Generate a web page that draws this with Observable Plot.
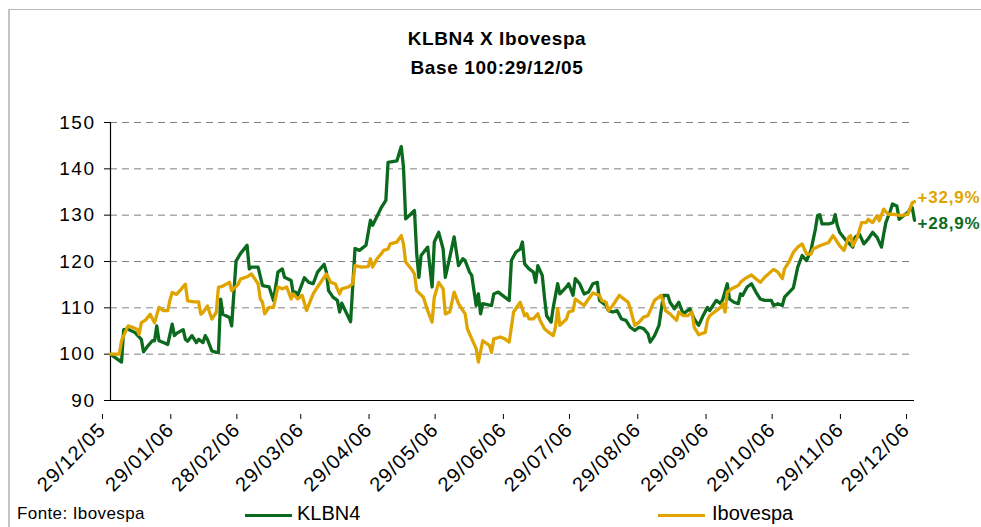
<!DOCTYPE html>
<html>
<head>
<meta charset="utf-8">
<script src="https://cdn.jsdelivr.net/npm/d3@7"></script>
<script src="https://cdn.jsdelivr.net/npm/@observablehq/plot@0.6"></script>
<style>
  html, body { margin: 0; padding: 0; background: #fff; }
  #wrap { position: relative; width: 981px; height: 527px; overflow: hidden; font-family: "Liberation Sans", Arial, sans-serif; color: #000; }
  #frame { position: absolute; left: 8px; top: 9px; width: 990px; height: 540px; border-top: 1px solid #b8b8b8; border-left: 2px solid #c4c4c4; }
  .title { position: absolute; left: 0; width: 994px; text-align: center; font-size: 19px; font-weight: bold; line-height: 29px; letter-spacing: 0.6px; }
  #chart { position: absolute; left: 0; top: 0; }
  .foot { position: absolute; font-size: 17px; line-height: 20px; letter-spacing: 0.4px; }
  .leg { position: absolute; font-size: 20px; line-height: 24px; }
  .swatch { position: absolute; height: 3px; }
</style>
</head>
<body>
<div id="wrap">
  <div id="frame"></div>
  <div id="chart"></div>
  <div class="title" style="top:24px">KLBN4 X Ibovespa</div>
  <div class="title" style="top:53px">Base 100:29/12/05</div>
  <div class="foot" style="left:17px; top:504px">Fonte: Ibovespa</div>
  <div id="legend"></div>
</div>
<script>
// ---- data ----
const seriesNames = ["KLBN4", "Ibovespa"];
const seriesColors = ["#0b6a1d", "#dfa400"];
const endLabels = ["+28,9%", "+32,9%"];

const klbnDates = [
"2005-12-29","2005-12-31","2006-01-03","2006-01-04","2006-01-06","2006-01-09","2006-01-12","2006-01-13","2006-01-15","2006-01-17",
"2006-01-18","2006-01-19","2006-01-20","2006-01-22","2006-01-24","2006-01-26","2006-01-27","2006-01-28","2006-01-31","2006-02-01",
"2006-02-02","2006-02-04","2006-02-06","2006-02-07","2006-02-09","2006-02-10","2006-02-11","2006-02-13","2006-02-15","2006-02-16",
"2006-02-17","2006-02-18","2006-02-21","2006-02-22","2006-02-24","2006-02-26","2006-03-01","2006-03-02","2006-03-03","2006-03-06",
"2006-03-08","2006-03-11","2006-03-13","2006-03-15","2006-03-17","2006-03-18","2006-03-21","2006-03-22","2006-03-23","2006-03-24",
"2006-03-27","2006-03-29","2006-03-31","2006-04-02","2006-04-05","2006-04-06","2006-04-07","2006-04-09","2006-04-11","2006-04-12",
"2006-04-13","2006-04-17","2006-04-19","2006-04-21","2006-04-24","2006-04-26","2006-04-27","2006-05-01","2006-05-03","2006-05-04",
"2006-05-08","2006-05-10","2006-05-11","2006-05-12","2006-05-14","2006-05-16","2006-05-17","2006-05-18","2006-05-19","2006-05-22",
"2006-05-24","2006-05-25","2006-05-27","2006-05-29","2006-05-30","2006-06-01","2006-06-03","2006-06-05","2006-06-07","2006-06-08",
"2006-06-10","2006-06-11","2006-06-13","2006-06-14","2006-06-15","2006-06-16","2006-06-20","2006-06-21","2006-06-23","2006-06-26",
"2006-06-28","2006-06-29","2006-07-01","2006-07-03","2006-07-04","2006-07-05","2006-07-07","2006-07-09","2006-07-10","2006-07-11",
"2006-07-13","2006-07-14","2006-07-15","2006-07-17","2006-07-18","2006-07-20","2006-07-21","2006-07-24","2006-07-25","2006-07-27",
"2006-07-28","2006-07-30","2006-08-01","2006-08-03","2006-08-05","2006-08-07","2006-08-08","2006-08-11","2006-08-12","2006-08-14",
"2006-08-16","2006-08-18","2006-08-20","2006-08-22","2006-08-24","2006-08-26","2006-08-28","2006-08-30","2006-08-31","2006-09-02",
"2006-09-04","2006-09-06","2006-09-08","2006-09-09","2006-09-11","2006-09-13","2006-09-15","2006-09-18","2006-09-20","2006-09-22",
"2006-09-24","2006-09-26","2006-09-27","2006-09-30","2006-10-02","2006-10-03","2006-10-05","2006-10-06","2006-10-08","2006-10-10",
"2006-10-11","2006-10-12","2006-10-14","2006-10-16","2006-10-18","2006-10-20","2006-10-22","2006-10-25","2006-10-26","2006-10-28",
"2006-10-30","2006-10-31","2006-11-04","2006-11-06","2006-11-08","2006-11-10","2006-11-12","2006-11-14","2006-11-15","2006-11-16",
"2006-11-17","2006-11-20","2006-11-22","2006-11-23","2006-11-24","2006-11-25","2006-11-28","2006-11-29","2006-12-01","2006-12-02",
"2006-12-04","2006-12-06","2006-12-08","2006-12-10","2006-12-12","2006-12-14","2006-12-15","2006-12-16","2006-12-18","2006-12-19",
"2006-12-21","2006-12-22","2006-12-24","2006-12-26","2006-12-27","2006-12-28","2006-12-29"
];
const klbnValues = [
100,99.3,98.3,105.3,105.4,104.7,103.2,100.5,101.8,102.9,
102.9,106.1,102.9,102.5,102.1,106.5,104,104.5,105.3,103.2,
102.8,104,102.5,103.2,102.5,104,103.2,100.7,100.4,100.4,
111.9,108.6,107.9,106.1,120.1,121.7,123.5,118.4,118.8,118.8,
114.8,114.5,111.6,117.7,118.4,116.6,115.9,113,113.4,112.7,
116.5,115.5,115.2,117.7,119.4,117.7,113.7,112.3,111.6,109.1,
111,107,122.8,122.4,123.5,128.9,127.8,131.7,133.2,141.4,
141.7,144.8,140.4,129.2,130.1,131,121.7,116.6,121.3,123.1,
114.5,124.2,126.3,122.7,116.6,120.9,125.3,119.1,120.6,120.2,
117.7,117,110.5,113,108.7,110.9,110.5,113,113.4,112.3,
111.6,120.2,122,122.7,124.2,119.5,118.4,117.7,115.5,119.1,
117,112.3,108.3,106.9,110.1,115.2,113,114.5,115.2,112.7,
116.3,115.2,113,113.4,115.2,115.5,111.6,110.5,109.4,109.1,
109.4,107.6,107.3,105.8,105.1,105.8,105.5,104.4,102.6,104,
106.2,112.7,112.7,111.2,109.8,111.2,108.7,109.8,107.6,106.2,
108.3,110.1,109.4,111.6,110.9,111.9,115.2,111.9,111.2,110.9,
113,112.7,114.5,115.2,113.4,111.9,111.6,111.6,110.5,110.9,
110.5,112.3,114.3,118.8,121.3,120.2,122.4,127,129.9,130.1,
128.1,128.1,128.4,130.1,127.7,126.3,124.5,124.1,123.1,125.2,
125.9,123.8,124.9,126.3,125.2,123.1,125.9,128.4,130.9,132.4,
132,129.1,129.9,130.6,131.3,131.6,128.9
];

const ibovDates = [
"2005-12-29","2006-01-02","2006-01-03","2006-01-04","2006-01-06","2006-01-08","2006-01-10","2006-01-11","2006-01-12","2006-01-14",
"2006-01-16","2006-01-18","2006-01-20","2006-01-22","2006-01-24","2006-01-25","2006-01-26","2006-01-28","2006-01-30","2006-02-01",
"2006-02-02","2006-02-05","2006-02-07","2006-02-08","2006-02-09","2006-02-11","2006-02-13","2006-02-15","2006-02-16","2006-02-18",
"2006-02-21","2006-02-22","2006-02-25","2006-02-26","2006-03-01","2006-03-03","2006-03-06","2006-03-07","2006-03-08","2006-03-09",
"2006-03-11","2006-03-13","2006-03-15","2006-03-17","2006-03-19","2006-03-21","2006-03-22","2006-03-24","2006-03-26","2006-03-28",
"2006-03-31","2006-04-02","2006-04-06","2006-04-08","2006-04-10","2006-04-12","2006-04-13","2006-04-16","2006-04-18","2006-04-19",
"2006-04-22","2006-04-25","2006-04-26","2006-04-27","2006-04-29","2006-05-01","2006-05-02","2006-05-04","2006-05-05","2006-05-08",
"2006-05-10","2006-05-11","2006-05-12","2006-05-15","2006-05-16","2006-05-17","2006-05-20","2006-05-22","2006-05-24","2006-05-25",
"2006-05-27","2006-05-29","2006-05-30","2006-06-01","2006-06-03","2006-06-05","2006-06-07","2006-06-08","2006-06-09","2006-06-10",
"2006-06-13","2006-06-14","2006-06-16","2006-06-19","2006-06-20","2006-06-21","2006-06-24","2006-06-26","2006-06-28","2006-06-30",
"2006-07-01","2006-07-03","2006-07-05","2006-07-06","2006-07-07","2006-07-09","2006-07-11","2006-07-12","2006-07-14","2006-07-16",
"2006-07-18","2006-07-19","2006-07-20","2006-07-21","2006-07-24","2006-07-25","2006-07-27","2006-07-28","2006-07-30","2006-08-01",
"2006-08-03","2006-08-05","2006-08-08","2006-08-09","2006-08-11","2006-08-12","2006-08-14","2006-08-17","2006-08-18","2006-08-21",
"2006-08-22","2006-08-24","2006-08-26","2006-08-28","2006-08-30","2006-09-02","2006-09-05","2006-09-07","2006-09-09","2006-09-12",
"2006-09-13","2006-09-15","2006-09-17","2006-09-19","2006-09-20","2006-09-22","2006-09-25","2006-09-26","2006-09-27","2006-09-30",
"2006-10-02","2006-10-03","2006-10-04","2006-10-05","2006-10-07","2006-10-10","2006-10-11","2006-10-13","2006-10-16","2006-10-18",
"2006-10-20","2006-10-22","2006-10-26","2006-10-28","2006-10-30","2006-10-31","2006-11-02","2006-11-04","2006-11-06","2006-11-08",
"2006-11-10","2006-11-12","2006-11-13","2006-11-16","2006-11-20","2006-11-22","2006-11-23","2006-11-25","2006-11-27","2006-11-29",
"2006-11-30","2006-12-01","2006-12-03","2006-12-05","2006-12-07","2006-12-08","2006-12-10","2006-12-12","2006-12-13","2006-12-15",
"2006-12-17","2006-12-19","2006-12-23","2006-12-26","2006-12-28","2006-12-29"
];
const ibovValues = [
100,100,102.9,104,106.1,105.8,105.4,104.3,106.8,107.4,
108.6,106.8,110.1,109.4,109.4,111.7,113.3,112.9,114,115.1,
111.5,111.3,111.3,108.6,109,110.4,107.6,109,114.4,114.7,
115.5,113.7,115.1,116.2,116.7,117.3,115.2,111.9,111.2,108.7,
110.1,110.1,114.5,114.1,114.5,111.9,113,111.9,112.7,109.4,
113,114.5,117.3,115.5,115.2,113,114.1,114.5,115.2,119.1,
118.8,118.9,120.6,118.8,120.6,121.7,122.4,122.7,123.8,124.2,
125.6,123.8,119.9,118.1,117.3,113.7,112.3,109.4,106.9,112.3,
115.5,114.1,108.7,109.1,113.4,110.9,109.4,108.7,105.5,104.4,
101.2,98.3,102.9,101.9,100.4,103.3,103.7,103.3,102.6,109.1,
109.8,111.2,108.3,108.7,107.6,107.6,108.7,107.3,105.5,104.7,
104,105.8,109.8,106.2,107.6,109.1,109.4,111.9,111.2,110.5,
111.9,113.2,112.7,111.6,111.2,109.4,110.5,112.7,112.3,111.2,
109.8,106.2,106.9,108,108.3,111.6,112.7,109.4,108.7,107.3,
109.1,108.3,108.3,109.1,105.8,104.2,104.7,107.3,108.3,109.4,
110.1,110.9,109.1,113.4,114.1,114.8,115.5,116.3,117.1,116.3,
115.5,116.6,118.3,117.7,116.3,118.4,119.9,122,123.1,123.8,
121.6,121.6,122.7,123.4,124.1,125.6,124.9,123.4,122.4,125.2,
125.6,123.4,125.2,128.4,128.4,129.1,128.4,129.9,128.8,131.3,
130.2,130.2,129.9,130.2,132.7,132.9
];

const yTicks = [90, 100, 110, 120, 130, 140, 150];
const gridTicks = [100, 110, 120, 130, 140, 150];
const xTickDates = ["2005-12-29","2006-01-29","2006-02-28","2006-03-29","2006-04-29","2006-05-29","2006-06-29",
                    "2006-07-29","2006-08-29","2006-09-29","2006-10-29","2006-11-29","2006-12-29"];
const xTickLabels = ["29/12/05","29/01/06","28/02/06","29/03/06","29/04/06","29/05/06","29/06/06",
                     "29/07/06","29/08/06","29/09/06","29/10/06","29/11/06","29/12/06"];

// ---- build ----
const parse = d3.utcParse("%Y-%m-%d");
const klbn = klbnDates.map((d, i) => ({date: parse(d), value: klbnValues[i]}));
const ibov = ibovDates.map((d, i) => ({date: parse(d), value: ibovValues[i]}));
const ticks = xTickDates.map(parse);
const labelOf = new Map(ticks.map((t, i) => [+t, xTickLabels[i]]));
const klbnEnd = [{...klbn[klbn.length - 1], label: endLabels[0]}];
const ibovEnd = [{...ibov[ibov.length - 1], label: endLabels[1]}];

const chart = Plot.plot({
  width: 981,
  height: 527,
  marginLeft: 110,
  marginRight: 67,
  marginTop: 122,
  marginBottom: 127,
  style: {fontFamily: "'Liberation Sans', Arial, sans-serif", background: "transparent", overflow: "visible", color: "#000"},
  x: {type: "utc", domain: [ticks[0], ticks[ticks.length - 1]]},
  y: {domain: [90, 150]},
  marks: [
    Plot.gridY(gridTicks, {stroke: "#808080", strokeOpacity: 1, strokeWidth: 1, strokeDasharray: "7,5"}),
    Plot.axisY(yTicks, {tickSize: 6, tickPadding: 9, fontSize: 19, label: null}),
    Plot.axisX(ticks, {tickSize: 5, tickRotate: -45, fontSize: 20, label: null,
                       tickFormat: d => labelOf.get(+d), dx: -8, dy: 14}),
    Plot.ruleX([ticks[0]], {stroke: "#000", strokeWidth: 1.2}),
    Plot.ruleY([90], {stroke: "#000", strokeWidth: 1.2}),
    Plot.line(klbn, {x: "date", y: "value", stroke: seriesColors[0], strokeWidth: 3.3, strokeLinejoin: "round"}),
    Plot.line(ibov, {x: "date", y: "value", stroke: seriesColors[1], strokeWidth: 3.3, strokeLinejoin: "round"}),
    Plot.text(klbnEnd, {x: "date", y: "value", text: "label", fill: seriesColors[0], dx: 3, dy: 3,
                        textAnchor: "start", lineAnchor: "middle", fontWeight: "bold", fontSize: 17}),
    Plot.text(ibovEnd, {x: "date", y: "value", text: "label", fill: seriesColors[1], dx: 3, dy: -4,
                        textAnchor: "start", lineAnchor: "middle", fontWeight: "bold", fontSize: 17})
  ]
});
document.getElementById("chart").appendChild(chart);

d3.select(chart).selectAll('g[aria-label="y-axis tick label"] text').style("letter-spacing", "1.5px");
d3.select(chart).selectAll('g[aria-label="x-axis tick label"] text').style("letter-spacing", "1.2px");
d3.select(chart).selectAll('g[aria-label="text"] text').style("letter-spacing", "0.8px");

// legend
const legend = document.getElementById("legend");
const legPos = [{line: 245, text: 297}, {line: 658, text: 712}];
seriesNames.forEach((name, i) => {
  const sw = document.createElement("div");
  sw.className = "swatch";
  sw.style.left = legPos[i].line + "px";
  sw.style.top = "514px";
  sw.style.width = "47px";
  sw.style.background = seriesColors[i];
  legend.appendChild(sw);
  const t = document.createElement("div");
  t.className = "leg";
  t.style.left = legPos[i].text + "px";
  t.style.top = "501px";
  t.textContent = name;
  legend.appendChild(t);
});
</script>
</body>
</html>
